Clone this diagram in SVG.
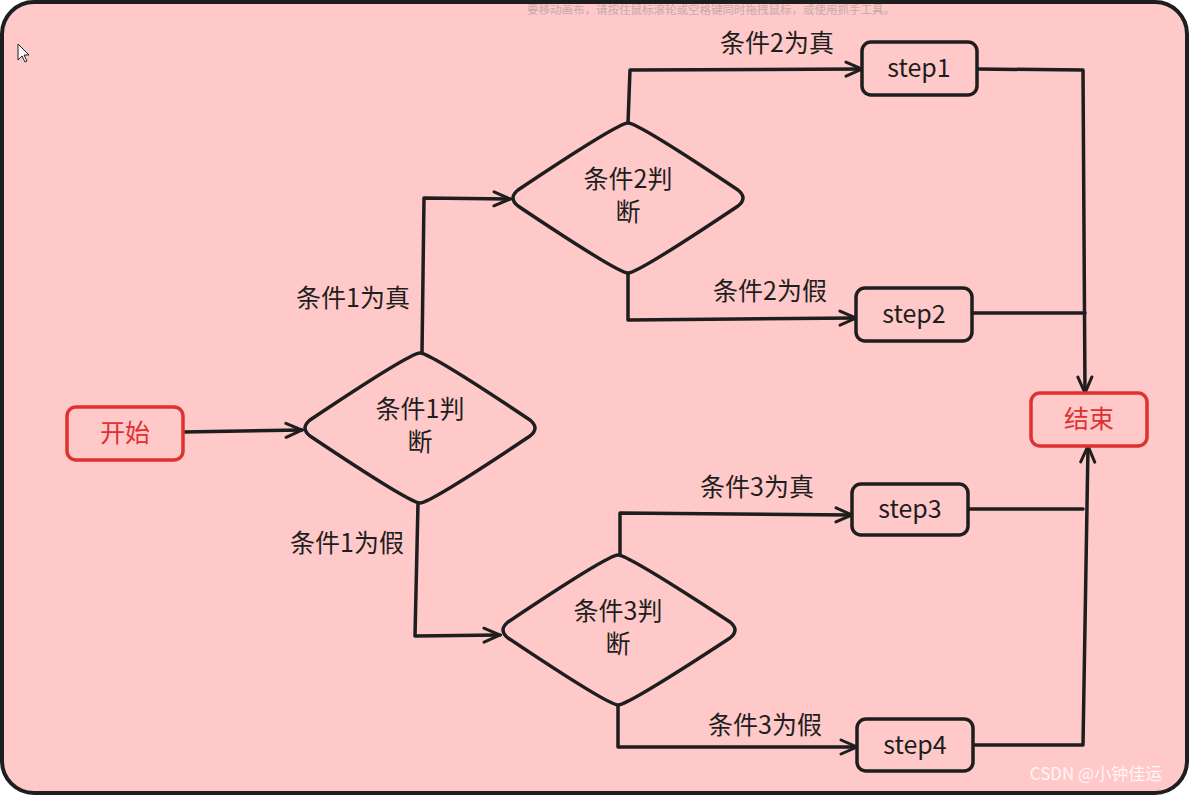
<svg xmlns="http://www.w3.org/2000/svg" width="1189" height="795" viewBox="0 0 1189 795">
<style>
.n{fill:#ffc9c9;stroke:#1e1e1e;stroke-width:3.5;stroke-linejoin:round}
.r{fill:#ffc9c9;stroke:#e03131;stroke-width:3.5}
.t{font-family:"Noto Sans CJK SC","Liberation Sans",sans-serif;font-size:25px;fill:#1e1e1e;text-anchor:middle}
.tr{font-family:"Noto Sans CJK SC","Liberation Sans",sans-serif;font-size:25px;fill:#e03131;text-anchor:middle}
.c path{fill:none;stroke:#1e1e1e;stroke-width:3.5;stroke-linecap:round;stroke-linejoin:round}
</style>
<defs>
<marker id="a" viewBox="0 0 20 20" refX="18" refY="10" markerWidth="20" markerHeight="20" markerUnits="userSpaceOnUse" orient="auto">
<path d="M2,3 L18,10 L2,17" fill="none" stroke="#1e1e1e" stroke-width="3" stroke-linecap="round"/>
</marker>
</defs>
<rect width="1189" height="795" fill="#fff"/>
<rect x="2" y="2" width="1185" height="791" rx="32" fill="#ffc9c9" stroke="#1e1e1e" stroke-width="4"/>
<text x="711" y="14" font-family="Noto Sans CJK SC,sans-serif" font-size="11.5" fill="#c8a8a8" text-anchor="middle">要移动画布，请按住鼠标滚轮或空格键同时拖拽鼠标，或使用抓手工具。</text>
<path d="M18,44 L18,60 L22,56 L25,62 L27,61 L24,55 L29,55 Z" fill="#fff" stroke="#1e1e1e" stroke-width="1"/>
<g class="c">
<path d="M183,432 L302,430" marker-end="url(#a)"/>
<path d="M422,353 L424,198 L510,199" marker-end="url(#a)"/>
<path d="M418,503 L415,636 L500,635" marker-end="url(#a)"/>
<path d="M628,123 L630,70 L862,69" marker-end="url(#a)"/>
<path d="M628,273 L628,320 L856,318" marker-end="url(#a)"/>
<path d="M620,555 L620,513 L852,515" marker-end="url(#a)"/>
<path d="M618,705 L618,747 L857,747" marker-end="url(#a)"/>
<path d="M977,69 L1083,70 L1085,393" marker-end="url(#a)"/>
<path d="M972,313 L1085,313"/>
<path d="M968,509 L1083,509"/>
<path d="M973,745 L1083,745 L1088,446" marker-end="url(#a)"/>
<text class="t" x="353" y="307">条件1为真</text>
<text class="t" x="347" y="552">条件1为假</text>
<text class="t" x="777" y="52">条件2为真</text>
<text class="t" x="770" y="300">条件2为假</text>
<text class="t" x="757" y="496">条件3为真</text>
<text class="t" x="765" y="734">条件3为假</text>
</g>
<g id="start"><rect class="r" x="67" y="407" width="116" height="53" rx="9"/><text class="tr" x="125" y="442">开始</text></g>
<g id="end"><rect class="r" x="1031" y="393" width="116" height="53" rx="9"/><text class="tr" x="1089" y="428">结束</text></g>
<g id="d1"><path class="n" d="M420,353 Q430,353 530,420 Q540,428 530,436 Q430,503 420,503 Q410,503 310,436 Q300,428 310,420 Q410,353 420,353Z"/><text class="t" x="420" y="418">条件1判</text><text class="t" x="420" y="451">断</text></g>
<g id="d2"><path class="n" d="M628,123 Q638,123 738,190 Q748,198 738,206 Q638,273 628,273 Q618,273 518,206 Q508,198 518,190 Q618,123 628,123Z"/><text class="t" x="628" y="188">条件2判</text><text class="t" x="628" y="221">断</text></g>
<g id="d3"><path class="n" d="M618,555 Q628,555 730,622 Q740,630 730,638 Q628,705 618,705 Q608,705 508,638 Q498,630 508,622 Q608,555 618,555Z"/><text class="t" x="618" y="620">条件3判</text><text class="t" x="618" y="653">断</text></g>
<g id="s1"><rect class="n" x="862" y="42" width="115" height="53" rx="9"/><text class="t" x="919" y="77">step1</text></g>
<g id="s2"><rect class="n" x="856" y="288" width="116" height="53" rx="9"/><text class="t" x="914" y="323">step2</text></g>
<g id="s3"><rect class="n" x="852" y="484" width="116" height="51" rx="9"/><text class="t" x="910" y="518">step3</text></g>
<g id="s4"><rect class="n" x="857" y="719" width="116" height="52" rx="9"/><text class="t" x="915" y="754">step4</text></g>
<text x="1096" y="780" font-family="Noto Sans CJK SC,sans-serif" font-size="17" fill="#ffffff" fill-opacity="0.85" text-anchor="middle">CSDN @小钟佳运</text>
</svg>
